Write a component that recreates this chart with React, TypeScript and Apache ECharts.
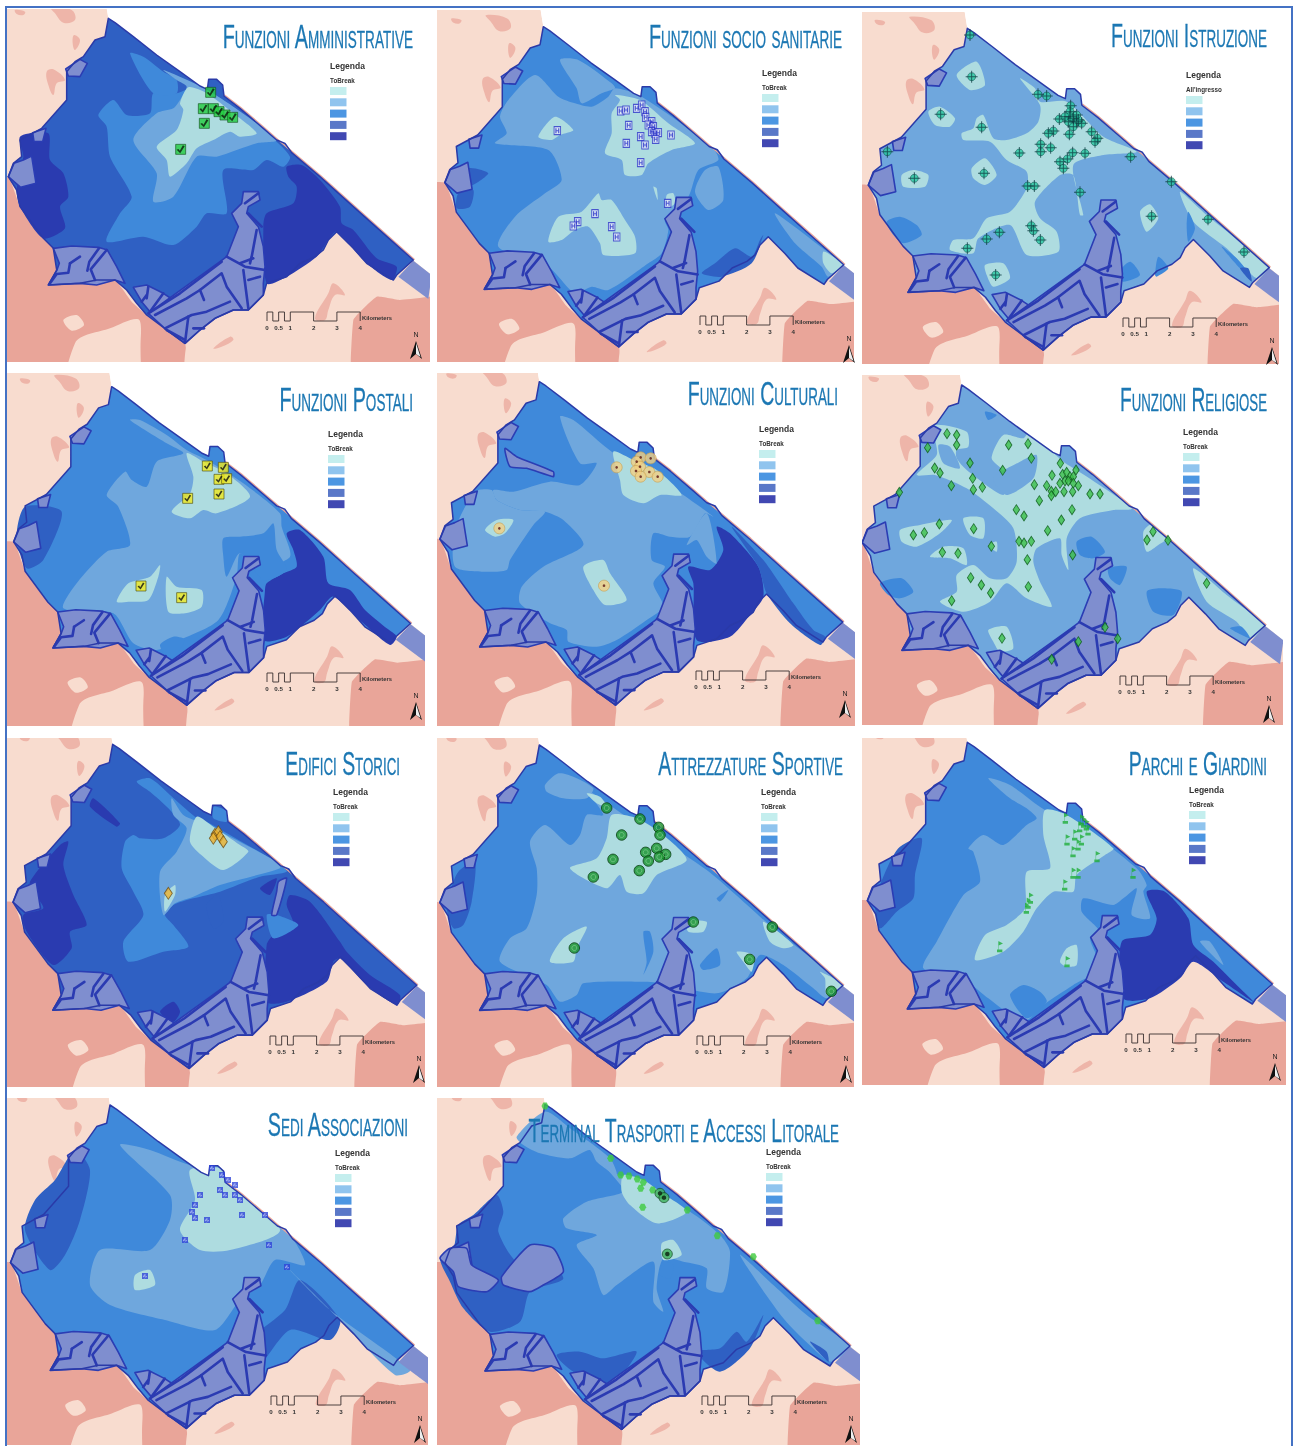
import React, { useEffect, useRef } from "react";
import * as echarts from "echarts";

type Pts = number[][];
const L1 = "#aedcE0", L2 = "#6fa7dd", L3 = "#3f89da", L4 = "#2f60c3", L5 = "#2a3bb0";
const LEGEND_SWATCHES = ["#c4eeee", "#90c4ee", "#4c96e2", "#5a78c8", "#4148b2"];

// ---------- shared geography, in the coordinates of the first panel ----------
const landOuter: Pts = [[300,-100],[325,55],[400,110],[470,165],[540,215],[600,258],[622,268],[668,290],[720,325],[790,385],[830,420],[875,458],[960,530],[1060,620],[1150,700],[1240,780],[1500,990],[1500,1300],[-100,1300],[-100,-100]];
const pinkPatches: Pts[] = [
  [[-100,540],[25,530],[60,620],[130,715],[160,745],[170,810],[150,855],[240,850],[345,840],[395,905],[440,945],[555,1030],[560,1300],[-100,1300]],
  [[1060,1300],[1060,960],[1130,890],[1200,900],[1500,880],[1500,1300]],
  [[945,955],[985,880],[1000,850],[1035,885],[1005,885],[985,930],[975,960]],
  [[150,20],[215,30],[225,60],[190,68],[165,40]],
  [[45,30],[75,35],[70,45],[50,42]],
  [[140,215],[160,208],[195,240],[170,250],[160,285],[145,255]],
  [[222,105],[240,120],[225,150],[218,130]],
  [[640,1045],[690,1010],[700,1020],[665,1040]],
];
const palePatches: Pts[] = [
  [[190,960],[230,945],[252,975],[215,992]],
  [[190,1300],[225,1030],[330,985],[415,958],[422,1020],[400,1300]],
  [[560,1030],[610,1040],[610,1300],[560,1300]],
];
const outline: Pts = [[325,55],[345,68],[400,110],[470,165],[540,215],[600,258],[622,268],[626,238],[650,238],[668,255],[672,288],[720,325],[790,385],[830,420],[855,430],[875,458],[960,530],[1060,620],[1150,700],[1240,780],[1190,825],[1180,840],[1100,790],[1060,745],[1010,695],[985,720],[970,750],[945,770],[900,790],[860,830],[800,850],[790,885],[745,930],[700,930],[645,955],[600,990],[555,1030],[500,990],[440,945],[410,910],[380,870],[345,840],[290,840],[240,850],[145,855],[170,810],[160,745],[130,715],[60,620],[50,570],[25,530],[40,490],[65,470],[60,420],[125,385],[200,300],[200,215],[225,185],[250,170],[285,120],[315,110]];
const seaMask: Pts = [...outline.slice(0, 20), [1500,990],[1500,-100],[300,-100]];
const coastGlow: Pts = [[672,288],[720,325],[790,385],[830,420],[875,458],[960,530],[1060,620],[1150,700],[1240,780]];
const endBlock: Pts = [[1240,782],[1295,825],[1285,897],[1195,830]];
const blocks: Pts[] = [
  [[197,207],[240,178],[262,190],[240,230],[205,228]],
  [[25,530],[42,490],[70,480],[95,468],[108,550],[62,562]],
  [[98,398],[138,385],[128,425],[102,425]],
  [[160,745],[215,738],[295,742],[322,750],[350,800],[375,850],[345,840],[290,855],[240,850],[145,855],[170,812],[178,790]],
  [[400,862],[440,855],[490,880],[520,900],[450,935],[425,905]],
  [[445,940],[660,785],[680,770],[715,680],[695,640],[725,610],[730,575],[775,575],[780,600],[745,620],[740,640],[775,680],[790,740],[795,800],[790,850],[790,885],[745,930],[700,930],[645,955],[600,990],[555,1030],[500,990]],
];
const roads: Pts[] = [
  [[445,940],[540,880],[665,785]],
  [[465,945],[560,895],[600,870],[665,820],[680,860],[725,925]],
  [[495,985],[575,945],[620,935],[690,905]],
  [[565,950],[555,1028]],
  [[580,985],[612,985]],
  [[500,990],[555,1020]],
  [[440,885],[425,905]],
  [[445,860],[440,895]],
  [[490,880],[450,935]],
  [[735,610],[775,580]],
  [[745,640],[785,680]],
  [[770,690],[755,770],[750,790]],
  [[720,790],[760,775]],
  [[680,770],[735,800],[795,810]],
  [[730,810],[745,925]],
  [[780,830],[745,840]],
  [[600,870],[612,900]],
  [[297,745],[268,785],[262,812]],
  [[320,750],[272,808],[285,840]],
  [[210,790],[240,770]],
  [[210,790],[205,818],[170,822],[150,850]],
];

// ---------- accessibility bands, per panel, in that panel's zoomed coordinates ----------
const bandsP1: [string, Pts][] = [
  [L5,[[60,410],[145,400],[150,480],[190,520],[205,590],[180,620],[195,685],[130,715],[60,620],[50,570],[70,470]]],
  [L5,[[860,500],[905,495],[960,540],[1020,620],[1025,670],[1060,690],[1130,775],[1190,800],[1175,840],[1100,790],[1010,695],[985,720],[950,770],[860,830],[800,850],[790,680],[800,640],[880,610],[890,560],[865,530]]],
  [L3,[[295,345],[340,300],[380,345],[450,340],[460,280],[530,280],[600,258],[800,400],[870,470],[850,500],[800,480],[760,510],[670,510],[680,640],[620,640],[590,680],[520,735],[430,710],[320,725],[360,640],[395,590],[330,470],[320,380]]],
  [L3,[[390,160],[430,170],[490,215],[530,240],[530,280],[460,280]]],
  [L2,[[490,210],[530,240],[560,260],[540,300],[520,325],[470,340],[400,420],[470,520],[460,605],[520,590],[590,470],[650,470],[770,430],[830,420],[700,320],[600,258]]],
  [L1,[[565,262],[620,280],[700,340],[770,400],[720,410],[690,395],[640,420],[590,445],[560,490],[510,530],[500,480],[470,440],[530,390],[550,330],[540,310]]],
];
const bandsP2: [string, Pts][] = [
  [L2,[[195,350],[220,300],[300,225],[370,290],[420,310],[470,320],[520,290],[540,265],[620,290],[830,440],[850,480],[790,510],[760,590],[690,660],[700,690],[680,760],[640,790],[520,870],[470,860],[420,880],[340,800],[190,740],[240,650],[330,580],[380,540],[340,450],[180,430],[215,400]]],
  [L2,[[375,180],[430,180],[530,250],[540,265],[500,280],[440,310],[425,265]]],
  [L2,[[780,575],[810,510],[850,500],[865,600],[820,630]]],
  [L4,[[100,505],[160,520],[100,560]]],
  [L4,[[70,580],[115,570],[105,620],[65,625]]],
  [L4,[[800,820],[840,790],[900,745],[950,770],[975,720],[985,705],[950,790],[860,830]]],
  [L2,[[1020,640],[1170,750],[1225,790],[1180,830],[1160,800],[1080,730]]],
  [L1,[[1165,755],[1195,770],[1225,790],[1190,820],[1165,790]]],
  [L1,[[540,285],[615,300],[700,370],[780,430],[710,450],[640,490],[620,525],[570,525],[560,480],[510,460],[530,400],[530,340],[555,300]]],
  [L1,[[310,410],[360,350],[415,390],[375,405],[350,420]]],
  [L1,[[340,725],[370,650],[440,635],[490,580],[500,600],[530,600],[570,660],[600,710],[600,760],[505,765],[495,730],[460,680],[420,690],[380,720]]],
  [L1,[[695,585],[715,580],[720,610],[695,625]]],
  [L1,[[655,560],[665,565],[668,600]]],
];
const bandsP3: [string, Pts][] = [
  [L1,[[480,220],[525,250],[540,290],[620,290],[730,395],[830,440],[730,450],[640,480],[670,630],[660,630],[640,510],[600,510],[525,590],[540,640],[590,680],[595,740],[500,750],[450,660],[355,700],[340,745],[270,735],[280,705],[340,700],[380,640],[450,620],[500,550],[500,500],[440,465],[390,410],[310,405],[305,385],[340,370],[350,340],[370,330],[400,400],[440,405],[500,385],[535,350],[540,300]]],
  [L1,[[290,210],[350,170],[375,240],[330,255]]],
  [L1,[[205,320],[240,305],[285,340],[270,365],[225,360]]],
  [L1,[[335,490],[375,460],[410,510],[375,540],[340,520]]],
  [L1,[[125,510],[160,495],[205,510],[195,545],[130,545]]],
  [L1,[[375,780],[430,775],[450,820],[400,845],[380,810]]],
  [L1,[[840,620],[870,598],[895,640],[860,680]]],
  [L1,[[960,560],[1040,630],[1228,790],[1190,820],[1100,730],[1000,650]]],
  [L3,[[80,650],[120,635],[170,660],[185,690],[130,715],[100,690]]],
  [L3,[[985,620],[1005,670],[985,710],[980,660]]],
  [L3,[[1085,725],[1130,760],[1170,810],[1140,790]]],
  [L3,[[770,810],[810,770],[840,810],[790,830]]],
  [L3,[[885,810],[895,755],[925,790],[890,815]]],
  [L4,[[1140,790],[1165,790],[1175,830]]],
];
const bandsP4: [string, Pts][] = [
  [L4,[[75,410],[185,425],[130,570],[80,595],[50,500]]],
  [L5,[[860,490],[900,480],[970,560],[985,640],[1050,660],[1095,720],[1160,775],[1190,800],[1170,825],[1090,760],[1000,680],[960,720],[860,800],[790,810],[795,660],[800,640],[850,610],[890,590],[880,540]]],
  [L2,[[390,150],[500,220],[550,250],[470,275],[440,350],[395,330],[375,305],[320,375],[355,410],[390,525],[320,545],[230,640],[190,715],[340,730],[400,820],[470,840],[540,810],[655,750],[710,620],[720,550],[780,590],[870,560],[845,470],[840,430],[730,340],[620,270],[560,240],[500,195],[420,150]]],
  [L3,[[670,505],[720,500],[790,490],[820,460],[830,540],[860,600],[790,630],[720,550],[680,620],[670,560]]],
  [L3,[[480,825],[520,800],[555,810],[510,870]]],
  [L1,[[560,250],[610,275],[680,310],[750,380],[650,430],[610,420],[570,445],[515,425],[570,370],[580,320]]],
  [L1,[[350,695],[385,640],[450,620],[480,585],[475,620],[445,690],[385,695]]],
  [L1,[[500,620],[530,650],[605,660],[605,710],[555,730],[505,725]]],
];
const bandsP5: [string, Pts][] = [
  [L5,[[860,470],[900,490],[985,590],[1000,680],[960,735],[900,800],[800,810],[790,640],[775,590],[840,600],[880,540]]],
  [L4,[[905,470],[1000,570],[1090,700],[1150,780],[1185,800],[1170,825],[1080,760],[1010,670],[985,590]]],
  [L2,[[390,140],[430,150],[545,245],[620,280],[760,375],[850,440],[825,430],[780,500],[720,500],[670,490],[665,570],[705,590],[670,640],[700,710],[650,750],[560,810],[500,830],[415,815],[410,780],[360,760],[270,700],[275,650],[340,590],[460,525],[400,450],[345,425],[270,420],[200,390],[190,360],[250,365],[360,335],[450,345],[500,280],[450,280]]],
  [L2,[[75,480],[135,365],[185,360],[200,390],[270,420],[345,425],[310,465],[240,570],[230,600],[160,605],[75,590]]],
  [L2,[[770,525],[830,430],[860,580],[830,560],[800,510]]],
  [L1,[[550,245],[610,270],[680,300],[755,375],[690,375],[640,400],[580,375],[570,330]]],
  [L1,[[165,480],[200,450],[250,450],[225,490],[195,500]]],
  [L1,[[460,590],[520,570],[540,610],[590,690],[525,705],[490,660]]],
];
const bandsP6: [string, Pts][] = [
  [L1,[[225,150],[320,170],[325,215],[290,225],[290,250],[320,285],[430,360],[430,290],[395,250],[430,180],[490,190],[510,170],[610,260],[650,285],[815,400],[760,405],[660,430],[620,490],[625,585],[605,540],[600,490],[530,520],[520,560],[540,620],[575,695],[500,670],[440,625],[390,680],[310,710],[240,680],[290,650],[290,600],[340,570],[390,610],[440,610],[470,560],[460,460],[400,400],[320,340],[225,300],[170,300],[230,240],[225,190]]],
  [L2,[[235,210],[270,215],[300,280],[250,265]]],
  [L2,[[400,310],[480,260],[530,240],[520,310],[440,360]]],
  [L1,[[120,465],[180,450],[275,435],[240,475],[170,515],[125,500]]],
  [L1,[[310,430],[370,430],[370,490],[330,480]]],
  [L1,[[210,545],[250,515],[310,520],[320,570],[270,550]]],
  [L1,[[385,765],[440,755],[460,820],[420,830],[400,800]]],
  [L1,[[385,510],[410,500],[410,530]]],
  [L1,[[850,470],[880,445],[920,490],[895,510],[860,530]]],
  [L1,[[1000,580],[1100,660],[1215,755],[1170,790],[1130,740],[1040,680]]],
  [L3,[[650,500],[695,485],[735,530],[700,550],[660,540]]],
  [L3,[[860,650],[900,640],[965,650],[940,720],[880,710]]],
  [L3,[[60,625],[125,610],[160,650],[120,670],[85,660]]],
  [L3,[[745,580],[800,575],[780,630],[750,610]]],
  [L3,[[375,110],[410,120],[385,135]]],
  [L3,[[1110,760],[1145,755],[1170,790]]],
];
const bandsP7: [string, Pts][] = [
  [L5,[[90,440],[180,330],[205,320],[190,390],[220,480],[260,570],[210,590],[215,640],[160,690],[80,590],[70,540],[130,520],[100,470]]],
  [L5,[[870,480],[930,500],[1020,620],[1040,650],[1110,720],[1200,780],[1190,810],[1100,750],[1020,670],[1000,680],[980,740],[860,800],[800,800],[800,630],[820,600],[880,570],[860,510]]],
  [L5,[[280,190],[360,265],[350,275],[270,215]]],
  [L5,[[780,460],[830,430],[810,480]]],
  [L5,[[480,830],[520,800],[540,830],[520,860]]],
  [L3,[[410,140],[450,130],[510,180],[585,245],[620,260],[835,385],[860,410],[780,425],[660,470],[580,490],[520,510],[495,540],[520,570],[565,635],[490,650],[385,680],[370,620],[430,540],[400,470],[365,400],[375,320],[400,300],[420,310],[490,310],[540,270],[505,220],[450,170]]],
  [L3,[[800,540],[830,540],[895,570],[820,610]]],
  [L3,[[640,215],[680,228],[680,260],[640,250]]],
  [L4,[[620,510],[655,480],[670,560],[640,580]]],
  [L2,[[515,190],[550,240],[620,270],[830,380],[840,400],[660,450],[580,485],[525,505],[490,540],[480,410],[530,350],[560,280],[520,240]]],
  [L1,[[590,245],[640,275],[720,330],[745,350],[670,405],[610,365],[570,320]]],
  [L1,[[495,480],[525,450],[525,480],[495,530]]],
];
const bandsP8: [string, Pts][] = [
  [L2,[[300,320],[345,270],[420,330],[450,300],[470,240],[520,240],[470,165],[510,190],[610,260],[830,405],[1030,580],[1240,755],[1190,790],[1150,760],[1060,690],[990,660],[950,730],[860,775],[700,745],[640,740],[460,745],[440,780],[390,800],[350,750],[210,680],[240,610],[290,580],[320,480],[320,400]]],
  [L3,[[640,590],[660,590],[670,650],[640,720],[650,680]]],
  [L3,[[810,690],[860,640],[870,690],[820,705]]],
  [L3,[[860,490],[895,465],[870,500]]],
  [L2,[[345,150],[385,115],[430,125],[490,160],[470,190],[400,190],[350,170]]],
  [L4,[[85,410],[135,380],[125,500],[100,570],[70,580],[50,520],[60,470]]],
  [L1,[[470,175],[510,185],[530,215],[500,205]]],
  [L1,[[545,240],[620,250],[700,300],[770,375],[680,420],[640,475],[590,470],[570,420],[530,460],[420,400],[500,370],[530,310]]],
  [L1,[[360,680],[400,610],[470,575],[440,640],[430,680]]],
  [L1,[[1000,560],[1090,630],[1060,640],[1020,620]]],
  [L1,[[920,650],[970,660],[965,710],[940,680]]],
  [L1,[[770,560],[830,560],[820,590],[775,590]]],
  [L1,[[1170,710],[1240,750],[1190,780],[1185,730]]],
];
const bandsP9: [string, Pts][] = [
  [L4,[[60,450],[115,340],[185,310],[165,420],[160,490],[110,530],[60,580],[45,510]]],
  [L5,[[860,470],[915,470],[985,550],[1000,630],[1060,680],[1140,760],[1180,800],[1090,740],[1000,680],[960,730],[870,790],[790,790],[785,620],[870,600],[890,550]]],
  [L2,[[1020,620],[1090,690],[1050,620]]],
  [L2,[[385,130],[450,150],[555,225],[620,240],[830,400],[860,450],[850,470],[870,550],[815,540],[830,460],[790,490],[760,510],[670,490],[665,530],[720,590],[690,610],[720,700],[640,750],[550,810],[490,860],[385,790],[320,740],[190,700],[230,620],[310,480],[360,440],[340,350],[325,340],[370,300],[430,330],[500,270],[530,250],[500,220],[450,190]]],
  [L3,[[450,780],[490,750],[540,770],[560,800],[500,850]]],
  [L1,[[555,225],[620,240],[760,340],[735,360],[650,420],[640,470],[580,470],[530,520],[490,590],[430,650],[345,675],[375,600],[440,570],[495,520],[500,410],[570,400],[550,300]]],
  [L1,[[600,680],[620,640],[650,630],[650,690],[620,695]]],
];
const bandsP10: [string, Pts][] = [
  [L2,[[360,150],[450,165],[570,210],[645,210],[870,420],[915,510],[825,495],[780,570],[720,615],[645,705],[495,675],[330,630],[270,570],[300,465],[450,465],[510,375],[510,300]]],
  [L4,[[105,315],[165,255],[225,165],[270,225],[240,375],[195,480],[150,525],[75,405]]],
  [L1,[[570,225],[675,225],[840,405],[690,465],[600,465],[540,405],[585,315]]],
  [L1,[[405,540],[450,525],[465,570],[405,585]]],
  [L4,[[900,555],[1020,675],[990,735],[870,705],[765,825],[735,750],[855,645]]],
  [L2,[[855,510],[990,645],[1230,825],[1185,840],[1020,675]]],
];
const bandsP11: [string, Pts][] = [
  [L4,[[85,390],[130,360],[200,300],[220,350],[205,410],[260,500],[300,450],[400,550],[300,590],[270,680],[180,710],[100,640],[60,560],[30,490],[70,460]]],
  [L4,[[380,780],[450,770],[520,790],[620,770],[540,870],[430,830]]],
  [L4,[[800,770],[870,760],[920,710],[950,740],[1000,660],[960,760],[870,830]]],
  [L2,[[345,50],[420,100],[540,190],[560,240],[500,200],[480,165],[420,190],[330,175],[280,150],[260,125]]],
  [L2,[[480,165],[550,230],[630,270],[780,350],[870,420],[900,470],[880,590],[830,580],[830,520],[760,500],[700,490],[680,580],[700,650],[670,620],[670,500],[560,570],[520,600],[490,520],[440,450],[500,420],[410,400],[400,370],[470,320],[580,290],[555,250]]],
  [L3,[[700,500],[730,510],[720,550],[690,540]]],
  [L1,[[580,240],[640,255],[690,290],[770,350],[680,385],[600,330],[575,290]]],
  [L1,[[695,445],[730,435],[755,480],[700,495]]],
  [L2,[[930,480],[1030,570],[1130,660],[1260,755],[1205,800],[1160,770],[1060,670]]],
  [L4,[[1140,740],[1190,770],[1195,800]]],
];
const extraP5: Pts[] = [[[225,235],[260,260],[370,305],[370,320],[290,295],[240,290]]];
const extraP7: Pts[] = [[[835,440],[860,430],[830,540],[815,540],[830,470]]];
const extraP11: Pts[] = [
  [[215,545],[300,450],[370,460],[400,530],[340,570],[300,590],[220,570]],
  [[30,490],[60,460],[110,460],[125,510],[205,555],[170,590],[85,575],[70,530]],
];

// ---------- services, per panel ----------
const pointsP1: Pts = [[632,277],[610,326],[640,326],[657,335],[675,345],[698,352],[613,370],[542,448]];
const pointsP2: Pts = [[557,333],[573,330],[605,325],[620,315],[630,335],[632,352],[650,365],[640,375],[655,380],[650,395],[660,400],[670,398],[662,418],[708,405],[581,376],[617,410],[574,430],[630,435],[617,488],[367,392],[428,665],[415,678],[480,641],[530,680],[545,711],[698,610]];
const pointsP3: Pts = [[330,90],[335,215],[534,268],[560,273],[632,302],[598,342],[630,320],[640,340],[650,350],[665,355],[625,350],[640,365],[580,378],[565,385],[628,388],[695,380],[712,400],[705,410],[542,418],[572,428],[542,440],[478,444],[638,443],[675,445],[600,470],[622,462],[610,490],[812,455],[934,530],[660,562],[503,543],[523,543],[514,662],[520,677],[541,705],[418,682],[380,702],[322,730],[407,810],[875,634],[1044,643],[1152,741],[242,328],[365,367],[82,440],[163,520],[372,505],[630,335],[655,345],[615,335],[650,330]];
const pointsP4: Pts = [[622,288],[670,292],[657,328],[680,326],[657,372],[563,385],[423,648],[545,683]];
const pointsP5: Pts = [[632,262],[662,265],[560,292],[620,275],[630,290],[618,303],[658,306],[632,320],[683,320],[522,647],[208,475]];
const pointsP6: Pts = [[261,176],[290,180],[290,210],[203,218],[446,210],[504,206],[514,250],[330,264],[428,286],[224,279],[240,294],[274,332],[338,310],[340,344],[367,337],[118,352],[601,265],[576,301],[523,329],[560,332],[574,349],[587,350],[574,362],[608,298],[620,292],[630,305],[648,285],[640,305],[615,318],[625,318],[600,325],[640,325],[655,332],[612,350],[638,350],[690,357],[720,357],[538,377],[469,404],[492,423],[636,404],[604,435],[563,467],[238,447],[160,480],[193,473],[341,461],[394,514],[477,499],[492,504],[514,499],[247,532],[294,535],[638,540],[502,554],[332,608],[364,630],[392,654],[505,635],[275,677],[426,790],[735,757],[773,791],[655,800],[575,853],[879,470],[861,495],[924,496],[1040,625]];
const pointsP7: Pts = [[645,298],[655,290],[660,305],[670,320],[640,310],[505,475]];
const pointsP8: Pts = [[530,219],[630,252],[686,277],[690,300],[575,300],[680,340],[647,352],[707,358],[688,366],[655,378],[549,373],[628,407],[490,426],[790,561],[1027,576],[959,673],[1204,769],[433,639]];
const pointsP9: Pts = [[617,250],[665,255],[672,262],[680,270],[660,275],[685,285],[645,300],[622,315],[665,315],[655,330],[640,350],[712,365],[640,415],[655,415],[615,450],[820,415],[512,490],[505,505],[500,520],[420,635],[622,680]];
const pointsP10: Pts = [[636,219],[666,240],[684,255],[705,270],[660,285],[675,300],[705,300],[720,315],[585,330],[600,300],[585,369],[621,375],[576,351],[726,360],[795,360],[807,450],[861,516],[435,543],[555,435]];
const pointsP11: Pts = [[345,33],[542,190],[572,240],[597,243],[622,252],[640,262],[632,280],[668,285],[638,337],[772,345],[862,422],[970,485],[1163,677]];
const pointsP11b: Pts = [[690,295],[702,308],[712,477]];

const CHECK = "path://M1 6L3 5L4.5 7L8 1L10 2L5 10Z";
const HLET = "path://M0 0H3V4H7V0H10V10H7V6H3V10H0Z";
const CROSS = "path://M4.6 0H5.4V4.6H10V5.4H5.4V10H4.6V5.4H0V4.6H4.6Z";
const FLAG = "path://M2 0L2.6 0L9 3L2.6 5.5L2.6 10.5L8 10.5L8 14L0 14L0 10.5L2 10.5Z";
const HEX = "path://M2.5 0H7.5L10 5L7.5 10H2.5L0 5Z";
const WHEEL = "path://M4 1H6V3H4ZM3 4H6V6H8L9 9H8L7 7H3.5A2 2 0 1 0 6 9H7A3 3 0 1 1 3 5Z";

const sym = (symbol: any, symbolSize: any, color: string, borderColor = "transparent", borderWidth = 0) => ({ symbol, symbolSize, itemStyle: { color, borderColor, borderWidth } });
const checkGreen = [sym("rect", 10, "#23cc3f", "#12501c", 0.8), sym(CHECK, 8, "#0b1a0b")];
const checkYellow = [sym("rect", 10, "#efe81e", "#4a4a10", 0.8), sym(CHECK, 7, "#111")];
const hospital = [sym("rect", [6.5, 8], "#e6ebfa", "#2b33c8", 1), sym(HLET, [4, 5], "#2b33c8")];
const school = [sym("circle", 8, "#27c8a0", "#0f4a48", 0.7), sym(CROSS, 12, "#0f3f44")];
const culture = [sym("circle", 11, "#f1cf83", "#c5a055", 0.8), sym("circle", 2.6, "#5a1410")];
const church = [sym("diamond", [6.5, 10], "#3cc04a", "#0d5a1c", 0.9)];
const heritage = [sym("diamond", [8, 12], "#ecb22e", "#6a4a10", 0.9)];
const sport = [sym("circle", 10.5, "#16922a", "#0a3f14", 1), sym("circle", 5, "transparent", "#8fd89a", 0.7)];
const park = [sym(FLAG, [6, 11], "#1fae3a")];
const assoc = [sym("rect", 6, "#2f45d8"), sym(WHEEL, 4.2, "#cdd6fb")];
const terminal = [sym(HEX, 7, "#3dca3d")];
const terminalB = [sym("circle", 10, "#3db05a", "#0c3a1a", 0.8), sym("circle", 4.5, "#0a2010")];

const titles = ["Funzioni Amministrative","Funzioni socio sanitarie","Funzioni Istruzione","Funzioni Postali","Funzioni Culturali","Funzioni Religiose","Edifici Storici","Attrezzature Sportive","Parchi e Giardini","Sedi Associazioni","Terminal Trasporti e Accessi Litorale"];
const scaleTicks = ["0","0.5","1","2","3","4"];
const scaleTickKm = [0, 0.5, 1, 2, 3, 4];

const panels: any[] = [
  { box:[7,9,430,362], origin:[0,0], tip:[325,55], s:1, base:L4, bands:bandsP1, pts:[[pointsP1,checkGreen]], title:[216,413,36], legend:[330,66], bar:[267,312] },
  { box:[437,10,854,362], origin:[435,0], tip:[325,80], s:.985, base:L3, bands:bandsP2, pts:[[pointsP2,hospital]], title:[643,842,36], legend:[762,73], bar:[700,316] },
  { box:[862,12,1279,364], origin:[860,5], tip:[322,70], s:.99, base:L2, bands:bandsP3, pts:[[pointsP3,school]], title:[1107,1267,35], legend:[1186,75], bar:[1123,318], label:"All'ingresso" },
  { box:[7,373,425,726], origin:[0,370], tip:[335,50], s:.98, base:L3, bands:bandsP4, pts:[[pointsP4,checkYellow]], title:[276,413,399], legend:[328,434], bar:[267,673] },
  { box:[437,373,855,726], origin:[430,370], tip:[328,35], s:.995, base:L3, bands:bandsP5, pts:[[pointsP5,culture]], title:[684,838,393], legend:[759,429], bar:[696,671], extra:extraP5 },
  { box:[862,375,1283,725], origin:[860,375], tip:[305,30], s:.995, base:L2, bands:bandsP6, pts:[[pointsP6,church]], title:[1117,1267,399], legend:[1183,432], bar:[1120,676] },
  { box:[7,738,425,1087], origin:[0,735], tip:[338,28], s:.997, base:L4, bands:bandsP7, pts:[[pointsP7,heritage]], title:[283,400,763], legend:[333,792], bar:[270,1036], extra:extraP7 },
  { box:[437,738,854,1087], origin:[430,735], tip:[328,30], s:.995, base:L3, bands:bandsP8, pts:[[pointsP8,sport]], title:[654,843,763], legend:[761,792], bar:[697,1036] },
  { box:[862,738,1286,1085], origin:[860,735], tip:[322,22], s:1, base:L3, bands:bandsP9, pts:[[pointsP9,park]], title:[1126,1267,763], legend:[1189,790], bar:[1126,1034] },
  { box:[7,1098,428,1445], origin:[0,1095], tip:[330,30], s:.995, base:L3, bands:bandsP10, pts:[[pointsP10,assoc]], title:[263,408,1124], legend:[335,1153], bar:[271,1396] },
  { box:[437,1098,860,1445], origin:[430,1095], tip:[345,28], s:1, base:L3, bands:bandsP11, pts:[[pointsP11,terminal],[pointsP11b,terminalB]], title:[520,839,1130], legend:[766,1152], bar:[702,1396], extra:extraP11 },
];

const TITLE_FONT = 'small-caps 34px "Liberation Sans Narrow", "Liberation Sans", sans-serif';

function buildOption() {
  const grid: any[] = [], xAxis: any[] = [], yAxis: any[] = [], series: any[] = [], graphic: any[] = [];
  graphic.push({ type: "rect", z: 200, silent: true, shape: { x: 6, y: 7, width: 1286, height: 1460 }, style: { fill: "none", stroke: "#4472c4", lineWidth: 2 } });
  const ctx = document.createElement("canvas").getContext("2d") as CanvasRenderingContext2D;
  ctx.font = TITLE_FONT;

  panels.forEach((p, i) => {
    const [x0, y0, x1, y1] = p.box;
    grid.push({ left: x0, top: y0, width: x1 - x0, height: y1 - y0, show: false });
    xAxis.push({ type: "value", gridIndex: i, min: x0, max: x1, show: false });
    yAxis.push({ type: "value", gridIndex: i, min: y0, max: y1, inverse: true, show: false });

    const tipAbs = [p.origin[0] + p.tip[0] / 3, p.origin[1] + p.tip[1] / 3];
    const sh = (q: Pts) => q.map((a) => [tipAbs[0] + (p.s * (a[0] - 325)) / 3, tipAbs[1] + (p.s * (a[1] - 55)) / 3]);
    const own = (q: Pts) => q.map((a) => [p.origin[0] + a[0] / 3, p.origin[1] + a[1] / 3]);

    const layers: any[] = [];
    const poly = (points: Pts, fill: string, stroke?: string, lw?: number, smooth?: number) => layers.push({ kind: "polygon", points, fill, stroke, lw, smooth });
    poly(sh(landOuter), "#f8dccf");
    pinkPatches.forEach((q, k) => poly(sh(q), k > 1 ? "#eeb5a9" : "#e9a599", undefined, undefined, k > 1 ? 0.4 : 0.1));
    palePatches.forEach((q) => poly(sh(q), "#f8dccf", undefined, undefined, 0.3));
    poly(sh(outline), p.base);
    p.bands.forEach((b: [string, Pts]) => poly(own(b[1]), b[0], undefined, undefined, 0.25));
    poly(sh(seaMask), "#ffffff");
    layers.push({ kind: "polyline", points: sh(coastGlow).map((a) => [a[0] + 0.8, a[1] - 0.8]), stroke: "#eaa89c", lw: 1.4 });
    poly(sh(endBlock), "#7f8ecf");
    blocks.forEach((q) => poly(sh(q), "#7f8ecf", "#2b3db4", 1.6));
    (p.extra || []).forEach((q: Pts) => poly(own(q), "#7f8ecf", "#2b3db4", 1.6, 0.2));
    roads.forEach((q) => layers.push({ kind: "polyline", points: sh(q), stroke: "#2b3bb2", lw: 2.6 }));
    layers.push({ kind: "polygon", points: sh(outline), fill: "none", stroke: "#2a3aa8", lw: 1.5 });

    series.push({
      type: "custom", xAxisIndex: i, yAxisIndex: i, coordinateSystem: "cartesian2d", clip: true, silent: true,
      data: layers.map((_, k) => [k]),
      renderItem: (params: any, api: any) => {
        const l = layers[params.dataIndex];
        const points = l.points.map((a: number[]) => api.coord(a));
        return l.kind === "polygon"
          ? { type: "polygon", shape: { points, smooth: l.smooth || 0 }, style: { fill: l.fill, stroke: l.stroke || "none", lineWidth: l.lw || 0, lineJoin: "round" } }
          : { type: "polyline", shape: { points }, style: { fill: "none", stroke: l.stroke, lineWidth: l.lw, lineCap: "round", lineJoin: "round" } };
      },
      z: 2,
    });

    p.pts.forEach((entry: any) => {
      entry[1].forEach((s: any) => {
        series.push({ type: "scatter", xAxisIndex: i, yAxisIndex: i, silent: true, data: own(entry[0]), z: 3, ...s });
      });
    });

    // title
    const [tl, tr, tc] = p.title;
    const w = ctx.measureText(titles[i]).width;
    graphic.push({ type: "text", z: 100, silent: true, x: tr, y: tc, scaleX: (tr - tl) / w, style: { text: titles[i], font: TITLE_FONT, fill: "#1b77b3", stroke: "#1b77b3", lineWidth: 0.3, textAlign: "right", textVerticalAlign: "middle" } });

    // legend
    const [lx, ly] = p.legend;
    graphic.push({ type: "text", z: 100, silent: true, x: lx, y: ly, style: { text: "Legenda", font: 'bold 8.5px "Liberation Sans", sans-serif', fill: "#333", textVerticalAlign: "middle" } });
    graphic.push({ type: "text", z: 100, silent: true, x: lx, y: ly + 14, style: { text: p.label || "ToBreak", font: 'bold 6.3px "Liberation Sans", sans-serif', fill: "#333", textVerticalAlign: "middle" } });
    LEGEND_SWATCHES.forEach((c, k) => {
      graphic.push({ type: "rect", z: 100, silent: true, shape: { x: lx, y: ly + 21 + k * 11.3, width: 16.5, height: 8 }, style: { fill: c } });
    });

    // scale bar and north arrow
    const [bx, by] = p.bar;
    const kmW = 23.3, h = 9;
    const bar: number[][] = [];
    [[0, 0.25], [0.25, 0.5], [0.5, 0.75], [0.75, 1], [1, 2], [2, 3], [3, 4]].forEach((seg, k) => {
      const yy = k % 2 === 0 ? by : by + h;
      if (k === 0) bar.push([bx, by + h]);
      bar.push([bx + seg[0] * kmW, yy], [bx + seg[1] * kmW, yy]);
    });
    bar.push([bx + 4 * kmW, by + h]);
    graphic.push({ type: "polyline", z: 100, silent: true, shape: { points: bar }, style: { fill: "none", stroke: "#3a3030", lineWidth: 0.9 } });
    scaleTicks.forEach((t, k) => {
      graphic.push({ type: "text", z: 100, silent: true, x: bx + scaleTickKm[k] * kmW, y: by + 15, style: { text: t, font: 'bold 6.2px "Liberation Sans", sans-serif', fill: "#333", textAlign: "center", textVerticalAlign: "middle" } });
    });
    graphic.push({ type: "text", z: 100, silent: true, x: bx + 95, y: by + 6, style: { text: "Kilometers", font: 'bold 5.8px "Liberation Sans", sans-serif', fill: "#333", textVerticalAlign: "middle" } });
    const nx = bx + 149, ny = by + 22;
    graphic.push({ type: "text", z: 100, silent: true, x: nx, y: ny, style: { text: "N", font: '7px "Liberation Sans", sans-serif', fill: "#222", textAlign: "center", textVerticalAlign: "middle" } });
    graphic.push({ type: "polygon", z: 100, silent: true, shape: { points: [[nx, ny + 7], [nx + 6, ny + 25], [nx, ny + 20], [nx - 6, ny + 25]] }, style: { fill: "#111" } });
    graphic.push({ type: "polygon", z: 100, silent: true, shape: { points: [[nx, ny + 9], [nx + 4.5, ny + 23], [nx, ny + 20]] }, style: { fill: "#eee" } });
  });
  return { animation: false, backgroundColor: "#fff", tooltip: { show: false }, grid, xAxis, yAxis, series, graphic };
}

export default function App() {
  const ref = useRef<HTMLDivElement>(null);
  useEffect(() => {
    const chart = echarts.init(ref.current as HTMLDivElement, undefined, { renderer: "svg" });
    chart.setOption(buildOption() as any);
    return () => chart.dispose();
  }, []);
  return <div ref={ref} style={{ position: "absolute", left: 0, top: 0, width: 1297, height: 1446, filter: "blur(0.4px)" }} />;
}
